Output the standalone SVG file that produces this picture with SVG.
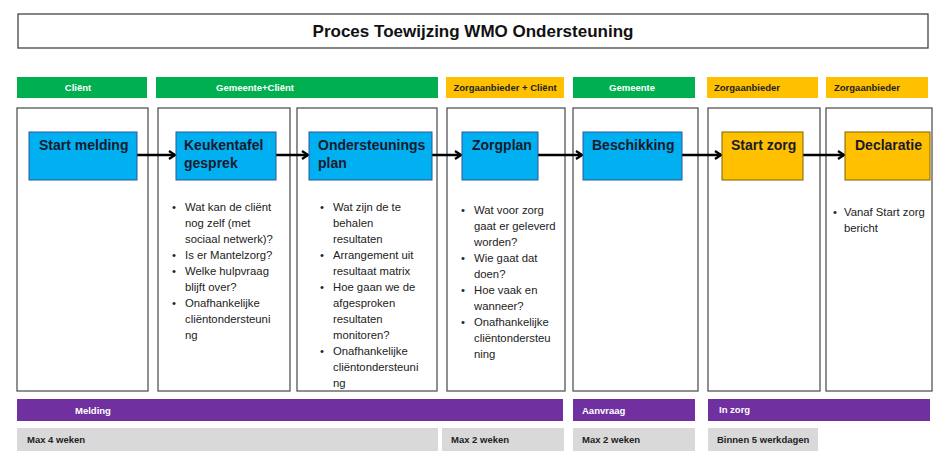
<svg xmlns="http://www.w3.org/2000/svg" width="940" height="456" viewBox="0 0 940 456">
<style>
text{font-family:"Liberation Sans","Open Sans",sans-serif}
.col{fill:#fff;stroke:#555;stroke-width:1.3}
.g{fill:#00b050}.o{fill:#ffc000}.p{fill:#7030a0}.gr{fill:#d9d9d9}
.ht{font-size:9.5px;font-weight:bold}
.hw{fill:#fff}.hd{fill:#222}
.bl{fill:#00b0f0;stroke:#2f5597;stroke-width:1}
.or{fill:#ffc000;stroke:#7f6000;stroke-width:1}
.bt{font-size:14px;font-weight:bold;fill:#1a1a2e}
.li{font-size:11.3px;fill:#222}
.pt{font-size:9.5px;font-weight:bold;fill:#fff}
.gt{font-size:9.5px;font-weight:bold;fill:#222}
.con{stroke:#000;stroke-width:2.5;fill:none;marker-end:url(#a)}
</style>
<defs><marker id="a" markerWidth="8" markerHeight="10" refX="7" refY="5" orient="auto" markerUnits="userSpaceOnUse"><path d="M1,1 L7,5 L1,9" fill="none" stroke="#000" stroke-width="2.2"/></marker></defs>
<g id="title"><rect x="18" y="14" width="910" height="34" fill="#fff" stroke="#444" stroke-width="1.3"/><text x="473" y="37" text-anchor="middle" font-size="17" font-weight="bold" fill="#111">Proces Toewijzing WMO Ondersteuning</text></g>
<g id="headers">
<rect class="g" x="17" y="77" width="130" height="21"/><text class="ht hw" x="78" y="91" text-anchor="middle">Cliënt</text>
<rect class="g" x="156" y="77" width="282" height="21"/><text class="ht hw" x="255" y="91" text-anchor="middle">Gemeente+Cliënt</text>
<rect class="o" x="446" y="77" width="118" height="21"/><text class="ht hd" x="505" y="91" text-anchor="middle">Zorgaanbieder + Cliënt</text>
<rect class="g" x="573" y="77" width="122" height="21"/><text class="ht hw" x="632" y="91" text-anchor="middle">Gemeente</text>
<rect class="o" x="707" y="77" width="111" height="21"/><text class="ht hd" x="747" y="91" text-anchor="middle">Zorgaanbieder</text>
<rect class="o" x="826" y="77" width="102" height="21"/><text class="ht hd" x="867" y="91" text-anchor="middle">Zorgaanbieder</text>
</g>
<g id="columns">
<rect class="col" x="17" y="108" width="131" height="283"/>
<rect class="col" x="158" y="108" width="132" height="283"/>
<rect class="col" x="297" y="108" width="140" height="283"/>
<rect class="col" x="447" y="108" width="118" height="283"/>
<rect class="col" x="573" y="108" width="125" height="283"/>
<rect class="col" x="708" y="108" width="112" height="283"/>
<rect class="col" x="826" y="108" width="106" height="283"/>
</g>
<g id="connectors">
<line class="con" x1="137" y1="155" x2="175" y2="155"/>
<line class="con" x1="276" y1="155" x2="308" y2="155"/>
<line class="con" x1="432" y1="155" x2="461" y2="155"/>
<line class="con" x1="538" y1="155" x2="582" y2="155"/>
<line class="con" x1="682" y1="155" x2="721" y2="155"/>
<line class="con" x1="803" y1="155" x2="844" y2="155"/>
</g>
<g id="n1"><rect class="bl" x="29" y="132" width="108" height="48"/><text class="bt" x="39" y="150">Start melding</text></g>
<g id="n2"><rect class="bl" x="176" y="132" width="100" height="48"/><text class="bt" x="184" y="150">Keukentafel</text><text class="bt" x="184" y="168">gesprek</text>
<text class="li"><tspan x="172" y="211">•</tspan><tspan x="185" y="211">Wat kan de cliënt</tspan><tspan x="185" y="227">nog zelf (met</tspan><tspan x="185" y="243">sociaal netwerk)?</tspan><tspan x="172" y="259">•</tspan><tspan x="185" y="259">Is er Mantelzorg?</tspan><tspan x="172" y="275">•</tspan><tspan x="185" y="275">Welke hulpvraag</tspan><tspan x="185" y="291">blijft over?</tspan><tspan x="172" y="307">•</tspan><tspan x="185" y="307">Onafhankelijke</tspan><tspan x="185" y="323">cliëntondersteuni</tspan><tspan x="185" y="339">ng</tspan></text></g>
<g id="n3"><rect class="bl" x="309" y="132" width="123" height="48"/><text class="bt" x="318" y="150">Ondersteunings</text><text class="bt" x="318" y="168">plan</text>
<text class="li"><tspan x="320" y="211">•</tspan><tspan x="333" y="211">Wat zijn de te</tspan><tspan x="333" y="227">behalen</tspan><tspan x="333" y="243">resultaten</tspan><tspan x="320" y="259">•</tspan><tspan x="333" y="259">Arrangement uit</tspan><tspan x="333" y="275">resultaat matrix</tspan><tspan x="320" y="291">•</tspan><tspan x="333" y="291">Hoe gaan we de</tspan><tspan x="333" y="307">afgesproken</tspan><tspan x="333" y="323">resultaten</tspan><tspan x="333" y="339">monitoren?</tspan><tspan x="320" y="355">•</tspan><tspan x="333" y="355">Onafhankelijke</tspan><tspan x="333" y="371">cliëntondersteuni</tspan><tspan x="333" y="387">ng</tspan></text></g>
<g id="n4"><rect class="bl" x="462" y="132" width="76" height="48"/><text class="bt" x="472" y="150">Zorgplan</text>
<text class="li"><tspan x="461" y="214">•</tspan><tspan x="474" y="214">Wat voor zorg</tspan><tspan x="474" y="230">gaat er geleverd</tspan><tspan x="474" y="246">worden?</tspan><tspan x="461" y="262">•</tspan><tspan x="474" y="262">Wie gaat dat</tspan><tspan x="474" y="278">doen?</tspan><tspan x="461" y="294">•</tspan><tspan x="474" y="294">Hoe vaak en</tspan><tspan x="474" y="310">wanneer?</tspan><tspan x="461" y="326">•</tspan><tspan x="474" y="326">Onafhankelijke</tspan><tspan x="474" y="342">cliëntondersteu</tspan><tspan x="474" y="358">ning</tspan></text></g>
<g id="n5"><rect class="bl" x="583" y="132" width="99" height="48"/><text class="bt" x="592" y="150">Beschikking</text></g>
<g id="n6"><rect class="or" x="722" y="132" width="81" height="48"/><text class="bt" x="731" y="150">Start zorg</text></g>
<g id="n7"><rect class="or" x="845" y="132" width="85" height="48"/><text class="bt" x="855" y="150">Declaratie</text>
<text class="li"><tspan x="833" y="216">•</tspan><tspan x="844" y="216">Vanaf Start zorg</tspan><tspan x="844" y="232">bericht</tspan></text></g>
<g id="phases">
<rect class="p" x="17" y="399" width="546" height="22"/><text class="pt" x="75" y="414">Melding</text>
<rect class="p" x="573" y="399" width="122" height="22"/><text class="pt" x="582" y="414">Aanvraag</text>
<rect class="p" x="708" y="399" width="222" height="22"/><text class="pt" x="719" y="413">In zorg</text>
</g>
<g id="durations">
<rect class="gr" x="17" y="428" width="421" height="23"/><text class="gt" x="27" y="443">Max 4 weken</text>
<rect class="gr" x="442" y="428" width="122" height="23"/><text class="gt" x="451" y="443">Max 2 weken</text>
<rect class="gr" x="573" y="428" width="122" height="23"/><text class="gt" x="582" y="443">Max 2 weken</text>
<rect class="gr" x="708" y="428" width="110" height="23"/><text class="gt" x="717" y="443">Binnen 5 werkdagen</text>
</g>
</svg>
